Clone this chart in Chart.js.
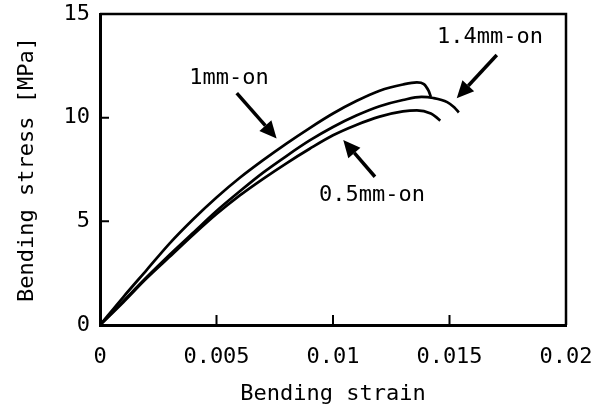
<!DOCTYPE html>
<html><head><meta charset="utf-8">
<script src="https://cdn.jsdelivr.net/npm/chart.js@4"></script>
<style>html,body{margin:0;padding:0;background:#fff}#w{width:604px;height:410px;position:relative}</style>
</head><body><div id="w"><canvas id="c"></canvas></div>
<script>
// ---- data ----
const strain1mm  = [0, 0.001, 0.002, 0.003, 0.004, 0.005, 0.006, 0.007, 0.008, 0.009, 0.010, 0.011, 0.012, 0.013, 0.0136, 0.0139, 0.0141, 0.0142];
const stress1mm  = [0, 1.35, 2.65, 3.95, 5.1, 6.15, 7.1, 7.95, 8.75, 9.5, 10.2, 10.8, 11.3, 11.6, 11.7, 11.62, 11.3, 11.0];
const strain14mm = [0, 0.001, 0.002, 0.003, 0.004, 0.005, 0.006, 0.007, 0.008, 0.009, 0.010, 0.011, 0.012, 0.013, 0.0138, 0.0143, 0.0149, 0.0152, 0.0154];
const stress14mm = [0, 1.15, 2.3, 3.4, 4.45, 5.5, 6.45, 7.35, 8.15, 8.9, 9.55, 10.1, 10.55, 10.85, 11.0, 10.95, 10.75, 10.5, 10.25];
const strain05mm = [0, 0.001, 0.002, 0.003, 0.004, 0.005, 0.006, 0.007, 0.008, 0.009, 0.010, 0.011, 0.012, 0.013, 0.0136, 0.0142, 0.0144, 0.0146];
const stress05mm = [0, 1.1, 2.25, 3.3, 4.35, 5.35, 6.25, 7.05, 7.8, 8.5, 9.15, 9.65, 10.05, 10.3, 10.35, 10.2, 10.05, 9.85];
const xTickLabels = ['0', '0.005', '0.01', '0.015', '0.02'];
const yTickLabels = ['0', '5', '10', '15'];
const seriesNames = ['1mm-on', '1.4mm-on', '0.5mm-on'];
// annotation label anchors and arrows (data coordinates)
const labelAt  = [[0.00554, 11.9], [0.01674, 13.9], [0.01167, 6.27]];
const arrowFrom = [[0.00587, 11.18], [0.01703, 13.02], [0.0118, 7.15]];
const arrowTo   = [[0.00758, 9.0], [0.01531, 10.94], [0.01044, 8.92]];

const FONT = "'DejaVu Sans Mono', monospace";
const pts = (xs, ys) => xs.map((x, i) => ({x, y: ys[i]}));

const frame = {
  id: 'frame',
  afterDatasetsDraw(chart) {
    const {ctx, chartArea: a, scales: {x, y}} = chart;
    ctx.save();
    ctx.strokeStyle = '#000';
    ctx.lineWidth = 2.5;
    ctx.beginPath();
    ctx.moveTo(a.left, a.top); ctx.lineTo(a.right, a.top); ctx.lineTo(a.right, a.bottom);
    ctx.stroke();
    ctx.lineWidth = 2;
    ctx.beginPath();
    x.ticks.forEach(t => { const px = x.getPixelForValue(t.value); ctx.moveTo(px, a.bottom); ctx.lineTo(px, a.bottom - 10); });
    y.ticks.forEach(t => { const py = y.getPixelForValue(t.value); ctx.moveTo(a.left, py); ctx.lineTo(a.left + 9, py); });
    ctx.stroke();
    ctx.fillStyle = '#000';
    ctx.font = '22px ' + FONT;
    ctx.textAlign = 'center';
    ctx.textBaseline = 'middle';
    seriesNames.forEach((n, i) => {
      ctx.fillText(n, x.getPixelForValue(labelAt[i][0]), y.getPixelForValue(labelAt[i][1]));
      const x0 = x.getPixelForValue(arrowFrom[i][0]), y0 = y.getPixelForValue(arrowFrom[i][1]);
      const x1 = x.getPixelForValue(arrowTo[i][0]), y1 = y.getPixelForValue(arrowTo[i][1]);
      const ang = Math.atan2(y1 - y0, x1 - x0);
      const hl = 17, hw = 8;
      const bx = x1 - hl * Math.cos(ang), by = y1 - hl * Math.sin(ang);
      ctx.lineWidth = 3.5;
      ctx.beginPath(); ctx.moveTo(x0, y0); ctx.lineTo(bx, by); ctx.stroke();
      ctx.beginPath();
      ctx.moveTo(x1, y1);
      ctx.lineTo(bx + hw * Math.sin(ang), by - hw * Math.cos(ang));
      ctx.lineTo(bx - hw * Math.sin(ang), by + hw * Math.cos(ang));
      ctx.closePath(); ctx.fill();
    });
    ctx.restore();
  }
};

const mk = (label, xs, ys) => ({
  label, data: pts(xs, ys), borderColor: '#000', borderWidth: 2.7,
  pointRadius: 0, cubicInterpolationMode: 'monotone', fill: false
});

new Chart(document.getElementById('c'), {
  type: 'line',
  data: { datasets: [mk(seriesNames[0], strain1mm, stress1mm), mk(seriesNames[1], strain14mm, stress14mm), mk(seriesNames[2], strain05mm, stress05mm)] },
  options: {
    responsive: true, maintainAspectRatio: false, animation: false,
    layout: { padding: { left: 0, right: 38, top: 14, bottom: 0 } },
    plugins: { legend: { display: false }, tooltip: { enabled: false } },
    scales: {
      x: {
        type: 'linear', min: 0, max: 0.02,
        afterFit: s => { s.height = 85; s.paddingLeft = 0; s.paddingRight = 0; },
        border: { color: '#000', width: 3 },
        grid: { display: false, drawTicks: false },
        ticks: { stepSize: 0.005, color: '#000', padding: 19, maxRotation: 0, font: { family: FONT, size: 22 },
                 callback: (v, i) => xTickLabels[i] },
        title: { display: true, text: 'Bending strain', color: '#000', font: { family: FONT, size: 22 }, padding: { top: 0, bottom: 3 } }
      },
      y: {
        type: 'linear', min: 0, max: 15,
        afterFit: s => { s.width = 100; s.paddingTop = 0; s.paddingBottom = 0; },
        border: { color: '#000', width: 3 },
        grid: { display: false, drawTicks: false },
        ticks: { stepSize: 5, color: '#000', padding: 10, font: { family: FONT, size: 22 },
                 callback: (v, i) => yTickLabels[i] },
        title: { display: true, text: 'Bending stress [MPa]', color: '#000', font: { family: FONT, size: 22 }, padding: { top: 14, bottom: 0 } }
      }
    }
  },
  plugins: [frame]
});
</script>
</body></html>
